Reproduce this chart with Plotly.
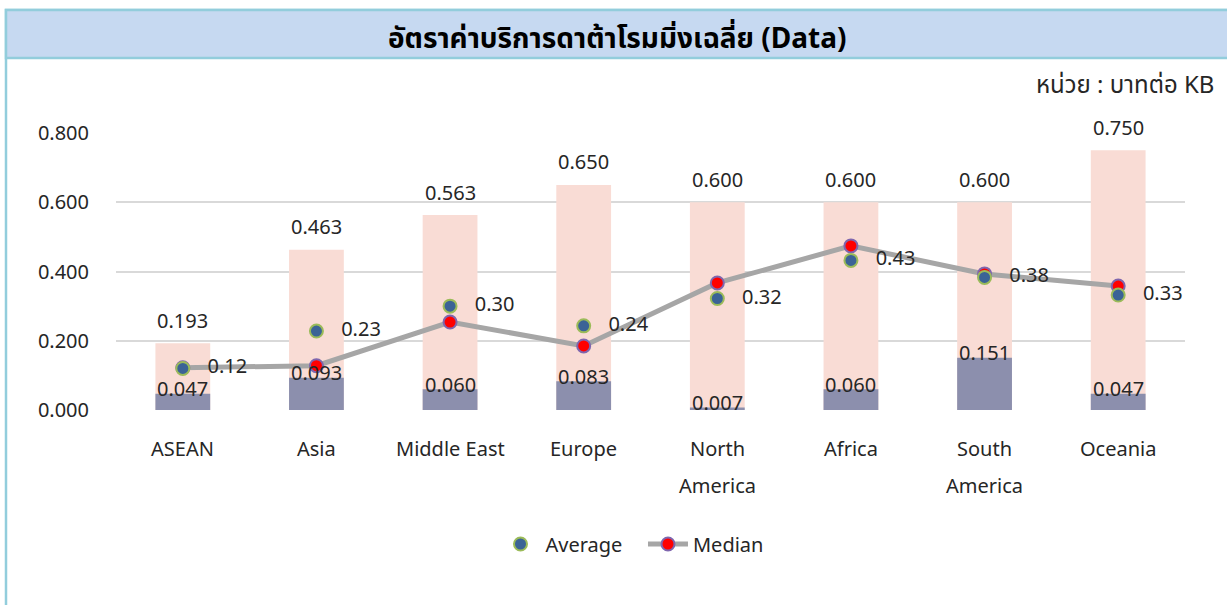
import plotly.graph_objects as go

categories = ["ASEAN", "Asia", "Middle East", "Europe", "North America", "Africa", "South America", "Oceania"]
cat_labels = ["ASEAN", "Asia", "Middle East", "Europe", "North<br>America", "Africa", "South<br>America", "Oceania"]
max_vals = [0.193, 0.463, 0.563, 0.650, 0.600, 0.600, 0.600, 0.750]
min_vals = [0.047, 0.093, 0.060, 0.083, 0.007, 0.060, 0.151, 0.047]
avg_vals = [0.120, 0.228, 0.300, 0.243, 0.322, 0.432, 0.383, 0.332]
med_vals = [0.122, 0.128, 0.254, 0.185, 0.367, 0.474, 0.393, 0.358]
y_ticks = [0.0, 0.2, 0.4, 0.6, 0.8]

FONT = "Noto Sans, Noto Sans Thai, sans-serif"
TXT = "#262626"
FS = 20

W, H = 1227, 605
L, R, T, B = 116, 1185, 133, 410


def px_x(p):
    return (p - L) / (R - L)


def px_y(p):
    return (B - p) / (B - T)


fig = go.Figure()
fig.add_trace(go.Bar(x=categories, y=max_vals, width=0.41, marker=dict(color="#F9DCD5", line=dict(width=0)),
                     showlegend=False, hoverinfo="skip"))
fig.add_trace(go.Bar(x=categories, y=min_vals, width=0.41, marker=dict(color="#8C8FAD", line=dict(width=0)),
                     showlegend=False, hoverinfo="skip"))
fig.add_trace(go.Scatter(x=categories, y=med_vals, mode="lines+markers", name="Median",
                         line=dict(color="#A6A6A6", width=5),
                         marker=dict(size=13, color="#FF0000", line=dict(color="#7F66AE", width=2))))
fig.add_trace(go.Scatter(x=categories, y=avg_vals, mode="markers+text", name="Average\u00a0\u00a0\u00a0",
                         text=[f"   {v:.2f}" for v in avg_vals], textposition="middle right",
                         textfont=dict(size=FS, color=TXT, family=FONT),
                         marker=dict(size=13, color="#3B6396", line=dict(color="#9BBB59", width=2))))

shapes = [
    dict(type="rect", xref="paper", yref="paper", x0=px_x(6), x1=px_x(1240), y0=px_y(620), y1=px_y(10),
         line=dict(color="#92CDDC", width=2.5), fillcolor="rgba(0,0,0,0)", layer="below"),
    dict(type="rect", xref="paper", yref="paper", x0=px_x(6), x1=px_x(1240), y0=px_y(58), y1=px_y(10),
         line=dict(color="#92CDDC", width=2.5), fillcolor="#C6D9F1", layer="below"),
]

annotations = [
    dict(text="<b>อัตราค่าบริการดาต้าโรมมิ่งเฉลี่ย (Data)</b>", xref="paper", yref="paper",
         x=px_x(617), y=px_y(37), xanchor="center", yanchor="middle", showarrow=False,
         font=dict(size=28, color="#000000", family=FONT)),
    dict(text="หน่วย : บาทต่อ KB", xref="paper", yref="paper", x=px_x(1216), y=px_y(83),
         xanchor="right", yanchor="middle", showarrow=False, font=dict(size=24, color=TXT, family=FONT)),
]
for c, v in zip(categories, max_vals):
    annotations.append(dict(text=f"{v:.3f}", x=c, y=v, xref="x", yref="y", xanchor="center",
                            yanchor="middle", yshift=23, showarrow=False,
                            font=dict(size=FS, color=TXT, family=FONT)))
for c, v in zip(categories, min_vals):
    annotations.append(dict(text=f"{v:.3f}", x=c, y=v, xref="x", yref="y", xanchor="center",
                            yanchor="middle", yshift=5, showarrow=False,
                            font=dict(size=FS, color=TXT, family=FONT)))
for c, lab in zip(categories, cat_labels):
    for i, line in enumerate(lab.split("<br>")):
        annotations.append(dict(text=line, x=c, xref="x", yref="paper", y=px_y(448 + 37 * i),
                                xanchor="center", yanchor="middle", showarrow=False,
                                font=dict(size=FS, color=TXT, family=FONT)))

fig.update_layout(
    width=W, height=H, margin=dict(l=L, r=W - R, t=T, b=H - B),
    paper_bgcolor="white", plot_bgcolor="white", barmode="overlay",
    font=dict(family=FONT, size=FS, color=TXT),
    shapes=shapes, annotations=annotations,
    legend=dict(orientation="h", x=px_x(632), y=px_y(544), xanchor="center", yanchor="middle",
                font=dict(size=FS, color=TXT, family=FONT), traceorder="reversed", itemwidth=40),
    xaxis=dict(showticklabels=False, showgrid=False, zeroline=False, showline=False, ticks="",
               categoryorder="array", categoryarray=categories),
    yaxis=dict(range=[0, 0.8], tickvals=y_ticks, tickformat=".3f", showgrid=True, gridcolor="#D9D9D9",
               gridwidth=2, zeroline=False, showline=False, ticks="", ticklabelstandoff=26,
               tickfont=dict(size=FS, color=TXT, family=FONT)),
)

fig.write_html("out.html", config={"displayModeBar": False},
               post_script="document.body.style.margin='0';document.body.style.overflow='hidden';")
